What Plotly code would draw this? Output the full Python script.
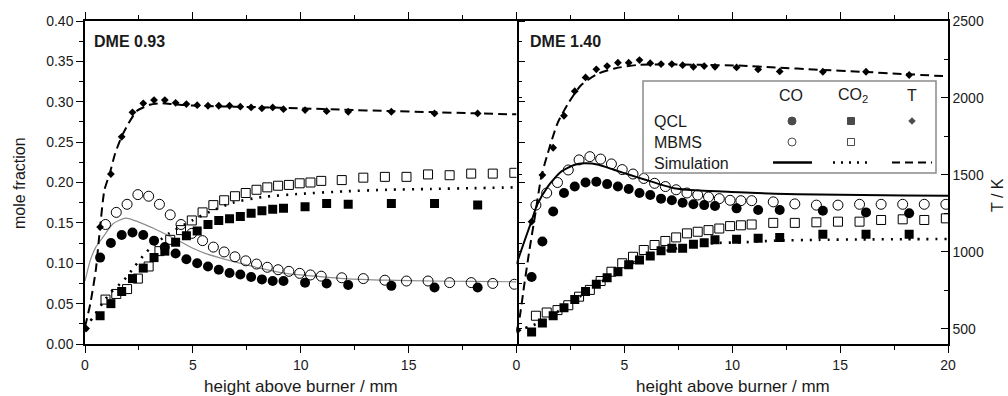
import plotly.graph_objects as go

# ---------------- data: DME 0.93 (left panel) ----------------
l_co_qcl_x = [0.7, 1.2, 1.7, 2.2, 2.7, 3.2, 3.7, 4.2, 4.7, 5.2, 5.7, 6.2, 6.7, 7.2, 7.7, 8.2, 8.7, 9.2, 10.2, 11.2, 12.2, 14.2, 16.2, 18.2]
l_co_qcl_y = [0.107, 0.125, 0.135, 0.138, 0.135, 0.128, 0.120, 0.112, 0.105, 0.100, 0.096, 0.092, 0.088, 0.086, 0.083, 0.080, 0.078, 0.078, 0.076, 0.075, 0.073, 0.072, 0.070, 0.070]
l_co2_qcl_y = [0.035, 0.050, 0.065, 0.081, 0.094, 0.107, 0.115, 0.126, 0.134, 0.140, 0.148, 0.153, 0.155, 0.158, 0.162, 0.165, 0.167, 0.168, 0.170, 0.174, 0.173, 0.174, 0.174, 0.172]
l_t_qcl_x = [0.05, 0.7, 1.2, 1.7, 2.2, 2.7, 3.2, 3.7, 4.2, 4.7, 5.2, 5.7, 6.2, 6.7, 7.2, 7.7, 8.2, 8.7, 9.2, 10.2, 11.2, 12.2, 14.2, 16.2, 18.2]
l_t_qcl = [500, 1160, 1505, 1747, 1906, 1965, 1986, 1986, 1968, 1960, 1953, 1949, 1949, 1949, 1943, 1938, 1932, 1938, 1927, 1921, 1914, 1910, 1910, 1899, 1899]
l_mbms_x = [0.95, 1.45, 1.95, 2.45, 2.95, 3.45, 3.95, 4.45, 4.95, 5.45, 5.95, 6.45, 6.95, 7.45, 7.95, 8.45, 8.95, 9.45, 9.95, 10.45, 10.95, 11.9, 12.9, 13.9, 14.9, 15.9, 16.9, 17.9, 18.9, 19.9]
l_co_mbms_y = [0.148, 0.163, 0.173, 0.185, 0.183, 0.173, 0.160, 0.148, 0.137, 0.128, 0.120, 0.114, 0.108, 0.103, 0.099, 0.095, 0.092, 0.090, 0.0875, 0.0855, 0.084, 0.082, 0.081, 0.079, 0.078, 0.078, 0.076, 0.076, 0.075, 0.074]
l_co2_mbms_y = [0.055, 0.062, 0.068, 0.081, 0.096, 0.115, 0.129, 0.141, 0.153, 0.163, 0.172, 0.178, 0.183, 0.187, 0.191, 0.194, 0.196, 0.197, 0.199, 0.200, 0.202, 0.203, 0.206, 0.207, 0.207, 0.210, 0.209, 0.211, 0.211, 0.212]
l_co_sim_x = [0, 0.25, 0.5, 0.85, 1.3, 1.9, 2.5, 3.2, 3.8, 4.4, 5, 5.6, 6.9, 8.1, 9.3, 10, 12, 14, 16, 18, 20]
l_co_sim_y = [0.078, 0.104, 0.120, 0.133, 0.149, 0.156, 0.151, 0.143, 0.135, 0.127, 0.1185, 0.112, 0.102, 0.094, 0.0875, 0.0855, 0.081, 0.079, 0.078, 0.0775, 0.077]
l_co2_sim_x = [0, 0.4, 0.8, 1.2, 1.8, 2.3, 2.85, 3.4, 3.9, 5, 5.8, 6.85, 8.2, 10, 12, 14, 16, 18, 20]
l_co2_sim_y = [0.020, 0.034, 0.050, 0.064, 0.079, 0.096, 0.114, 0.127, 0.137, 0.1535, 0.164, 0.175, 0.182, 0.186, 0.189, 0.191, 0.192, 0.193, 0.194]
l_t_sim_x = [0, 0.25, 0.5, 0.7, 0.9, 1.15, 1.4, 1.7, 2.0, 2.4, 3.0, 3.5, 4, 5, 6, 8, 10, 12, 14, 16, 18, 20]
l_t_sim = [510, 665, 880, 1160, 1400, 1510, 1640, 1750, 1830, 1915, 1955, 1965, 1960, 1950, 1945, 1940, 1932, 1923, 1915, 1908, 1900, 1893]

# ---------------- data: DME 1.40 (right panel) ----------------
r_qcl_x = [0.7, 1.2, 1.7, 2.2, 2.7, 3.2, 3.7, 4.2, 4.7, 5.2, 5.7, 6.2, 6.7, 7.2, 7.7, 8.2, 8.7, 9.2, 10.2, 11.2, 12.2, 14.2, 16.2, 18.2]
r_co_qcl_y = [0.083, 0.127, 0.164, 0.187, 0.195, 0.200, 0.201, 0.198, 0.195, 0.192, 0.187, 0.1845, 0.180, 0.178, 0.175, 0.173, 0.172, 0.171, 0.168, 0.166, 0.166, 0.165, 0.163, 0.162]
r_co2_qcl_y = [0.015, 0.026, 0.035, 0.045, 0.055, 0.065, 0.074, 0.082, 0.0895, 0.098, 0.104, 0.109, 0.1155, 0.1185, 0.1185, 0.1235, 0.1255, 0.129, 0.1296, 0.131, 0.132, 0.136, 0.136, 0.136]
r_t_qcl_x = [0.05, 0.7, 1.2, 1.7, 2.2, 2.7, 3.2, 3.7, 4.2, 4.7, 5.2, 5.7, 6.2, 6.7, 7.2, 7.7, 8.2, 8.7, 9.2, 10.2, 11.2, 12.2, 14.2, 16.2, 18.2]
r_t_qcl = [490, 1195, 1498, 1676, 1884, 2044, 2133, 2186, 2207, 2229, 2229, 2246, 2226, 2220, 2220, 2213, 2202, 2207, 2202, 2198, 2185, 2172, 2170, 2170, 2149]
r_mbms_x = [0.9, 1.4, 1.9, 2.4, 2.9, 3.4, 3.9, 4.4, 4.9, 5.4, 5.9, 6.4, 6.9, 7.4, 7.9, 8.4, 8.9, 9.4, 9.9, 10.4, 10.9, 11.9, 12.9, 13.9, 14.9, 15.9, 16.9, 17.9, 18.9, 19.9]
r_co_mbms_y = [0.172, 0.187, 0.200, 0.2155, 0.228, 0.232, 0.229, 0.223, 0.216, 0.2105, 0.205, 0.199, 0.195, 0.191, 0.187, 0.1845, 0.182, 0.180, 0.178, 0.1775, 0.1775, 0.176, 0.1735, 0.172, 0.172, 0.173, 0.173, 0.173, 0.173, 0.173]
r_co2_mbms_y = [0.035, 0.039, 0.042, 0.048, 0.0586, 0.067, 0.078, 0.0895, 0.100, 0.108, 0.1164, 0.1226, 0.1276, 0.132, 0.137, 0.139, 0.141, 0.143, 0.146, 0.147, 0.148, 0.150, 0.150, 0.1507, 0.1515, 0.1515, 0.1536, 0.1544, 0.1536, 0.1556]
r_co_sim_x = [0, 0.35, 0.68, 0.95, 1.45, 2.05, 2.7, 3.15, 3.8, 4.55, 5.3, 5.9, 7.3, 8.5, 10.3, 12, 14, 16, 18, 20]
r_co_sim_y = [0.099, 0.126, 0.151, 0.172, 0.195, 0.213, 0.222, 0.2237, 0.222, 0.2155, 0.209, 0.204, 0.193, 0.190, 0.188, 0.186, 0.185, 0.1845, 0.184, 0.1835]
r_co2_sim_x = [0, 0.6, 1.2, 1.8, 2.4, 3.0, 3.6, 4.2, 4.8, 5.4, 6, 6.6, 7.2, 7.8, 8.4, 9.2, 10.5, 12, 14, 16, 18, 20]
r_co2_sim_y = [0.017, 0.0215, 0.028, 0.038, 0.049, 0.060, 0.071, 0.082, 0.092, 0.100, 0.107, 0.113, 0.117, 0.1205, 0.123, 0.125, 0.126, 0.128, 0.129, 0.1295, 0.1298, 0.130]
r_t_sim_x = [0, 0.15, 0.37, 0.6, 0.85, 1.15, 1.45, 1.9, 2.4, 3, 3.8, 4.6, 5.6, 7, 8.5, 10.3, 12, 14, 16, 18, 20]
r_t_sim = [480, 577, 795, 1011, 1227, 1488, 1640, 1835, 1965, 2084, 2159, 2193, 2214, 2218, 2215, 2210, 2198, 2183, 2170, 2155, 2140]

x_ticks_left = [0, 5, 10, 15]
panel_labels = ["DME 0.93", "DME 1.40"]
legend_cols = ["CO", "CO<sub>2</sub>", "T"]
legend_rows = ["QCL", "MBMS", "Simulation"]

FONT = "Liberation Sans, Arial, sans-serif"
INK = "#1a1a1a"
W, H = 1008, 396
L, R, T, B = 85, 948, 21, 344


def px(xp):
    return (xp - L) / (R - L)


def py(yp):
    return (B - yp) / (B - T)


fig = go.Figure()

dot = "2px,7px"
dash = "9px,5px"


def add_panel(xa, ya, ta, co_sim_x, co_sim_y, co_sim_color, co_sim_w,
              co2_sim_x, co2_sim_y, t_sim_x, t_sim,
              qx, co_q, co2_q, tqx, t_q, mx, co_m, co2_m):
    # simulations
    fig.add_trace(go.Scatter(x=co_sim_x, y=co_sim_y, xaxis=xa, yaxis=ya, mode="lines",
                             line=dict(color=co_sim_color, width=co_sim_w, shape="spline", smoothing=0.6),
                             showlegend=False, hoverinfo="skip"))
    fig.add_trace(go.Scatter(x=co2_sim_x, y=co2_sim_y, xaxis=xa, yaxis=ya, mode="lines",
                             line=dict(color="black", width=2.6, dash=dot, shape="spline", smoothing=0.6),
                             showlegend=False, hoverinfo="skip"))
    fig.add_trace(go.Scatter(x=t_sim_x, y=t_sim, xaxis=xa, yaxis=ta, mode="lines",
                             line=dict(color="black", width=2, dash=dash, shape="spline", smoothing=0.6),
                             showlegend=False, hoverinfo="skip"))
    # MBMS open markers
    fig.add_trace(go.Scatter(x=mx, y=co_m, xaxis=xa, yaxis=ya, mode="markers",
                             marker=dict(symbol="circle-open", size=10, color="black", line=dict(width=1)),
                             showlegend=False))
    fig.add_trace(go.Scatter(x=mx, y=co2_m, xaxis=xa, yaxis=ya, mode="markers",
                             marker=dict(symbol="square-open", size=9, color="black", line=dict(width=1)),
                             showlegend=False))
    # QCL filled markers
    fig.add_trace(go.Scatter(x=qx, y=co_q, xaxis=xa, yaxis=ya, mode="markers",
                             marker=dict(symbol="circle", size=10, color="black"), showlegend=False))
    fig.add_trace(go.Scatter(x=qx, y=co2_q, xaxis=xa, yaxis=ya, mode="markers",
                             marker=dict(symbol="square", size=9, color="black"), showlegend=False))
    fig.add_trace(go.Scatter(x=tqx, y=t_q, xaxis=xa, yaxis=ta, mode="markers",
                             marker=dict(symbol="diamond", size=6, color="black"), showlegend=False))


add_panel("x", "y", "y3", l_co_sim_x, l_co_sim_y, "#8c8c8c", 1.2,
          l_co2_sim_x, l_co2_sim_y, l_t_sim_x, l_t_sim,
          l_co_qcl_x, l_co_qcl_y, l_co2_qcl_y, l_t_qcl_x, l_t_qcl,
          l_mbms_x, l_co_mbms_y, l_co2_mbms_y)
add_panel("x2", "y2", "y4", r_co_sim_x, r_co_sim_y, "black", 2.0,
          r_co2_sim_x, r_co2_sim_y, r_t_sim_x, r_t_sim,
          r_qcl_x, r_co_qcl_y, r_co2_qcl_y, r_t_qcl_x, r_t_qcl,
          r_mbms_x, r_co_mbms_y, r_co2_mbms_y)

# ---------------- legend table (drawn on an overlay axis in pixel units) ----------------
leg_marker_x = [792, 851, 912, 792, 851]
leg_marker_y = [121, 121, 121, 142, 142]
leg_marker_sym = ["circle", "square", "diamond", "circle-open", "square-open"]
leg_marker_size = [8, 7, 5, 8, 7]
fig.add_trace(go.Scatter(x=leg_marker_x, y=leg_marker_y, xaxis="x5", yaxis="y5", mode="markers",
                         marker=dict(symbol=leg_marker_sym, size=leg_marker_size, color="black",
                                     line=dict(width=1, color="black")),
                         showlegend=False, hoverinfo="skip"))
for x0, x1, d, w in [(773, 812, "solid", 2.4), (833, 872, "2px,6px", 2.6), (892, 932, "8px,5px", 2.2)]:
    fig.add_trace(go.Scatter(x=[x0, x1], y=[162.5, 162.5], xaxis="x5", yaxis="y5", mode="lines",
                             line=dict(color="black", width=w, dash=d), showlegend=False, hoverinfo="skip"))

axis_common = dict(showline=True, linecolor="black", linewidth=1.5, showgrid=False, zeroline=False,
                   automargin=False,
                   tickfont=dict(family=FONT, size=14, color=INK), tickcolor="black", tickwidth=1.3)

fig.update_layout(
    width=W, height=H,
    margin=dict(l=L, r=W - R, t=T, b=H - B, autoexpand=False),
    paper_bgcolor="white", plot_bgcolor="rgba(0,0,0,0)",
    showlegend=False,
    font=dict(family=FONT, color=INK),
    xaxis=dict(domain=[0, 0.5], range=[0, 20], anchor="y", tickvals=x_ticks_left,
               ticks="outside", ticklen=7, mirror="ticks",
               minor=dict(dtick=2.5, tick0=0, ticks="outside", ticklen=4, tickcolor="black", tickwidth=1.3),
               **axis_common),
    xaxis2=dict(domain=[0.5, 1], range=[0, 20], anchor="y2", dtick=5, tick0=0,
                ticks="outside", ticklen=7, mirror="ticks",
                minor=dict(dtick=2.5, tick0=0, ticks="outside", ticklen=4, tickcolor="black", tickwidth=1.3),
                **axis_common),
    yaxis=dict(domain=[0, 1], range=[0, 0.4], anchor="x", dtick=0.05, tick0=0, tickformat=".2f",
               ticks="outside", ticklen=7, mirror="ticks",
               minor=dict(dtick=0.025, tick0=0, ticks="outside", ticklen=4, tickcolor="black", tickwidth=1.3),
               **axis_common),
    yaxis2=dict(domain=[0, 1], range=[0, 0.4], anchor="x2", showticklabels=False, ticks="",
                showline=False, showgrid=False, zeroline=False, automargin=False),
    yaxis3=dict(range=[400, 2500], overlaying="y", anchor="x", side="right", showticklabels=False,
                showline=False, showgrid=False, zeroline=False, ticks="outside", ticklen=4, automargin=False,
                tickvals=[500, 1000, 1500, 2000, 2500], tickcolor="black", tickwidth=1.3),
    yaxis4=dict(range=[400, 2500], overlaying="y2", anchor="x2", side="right",
                tickvals=[500, 1000, 1500, 2000, 2500], ticks="inside", ticklen=7,
                minor=dict(dtick=250, tick0=0, ticks="inside", ticklen=4, tickcolor="black", tickwidth=1.3),
                **axis_common),
    xaxis5=dict(domain=[0, 1], range=[L, R], anchor="y5", visible=False, fixedrange=True, automargin=False),
    yaxis5=dict(domain=[0, 1], range=[B, T], anchor="x5", visible=False, fixedrange=True, automargin=False),
)

# legend frame
fig.add_shape(type="rect", xref="paper", yref="paper", x0=px(643), x1=px(936), y0=py(173), y1=py(81),
              line=dict(color="#8a8a8a", width=1.5), fillcolor="rgba(0,0,0,0)", layer="above")

ann = []
# panel labels
for lab, xp in zip(panel_labels, [92, 528]):
    ann.append(dict(text="<b>" + lab + "</b>", x=px(xp), y=py(42), xanchor="left", yanchor="middle",
                    font=dict(size=16, family=FONT, color=INK)))
# x-axis titles
for xc in [301, 733]:
    ann.append(dict(text="height above burner / mm", x=px(xc), y=py(386), xanchor="center", yanchor="middle",
                    font=dict(size=17, family=FONT, color=INK)))
# y-axis titles
ann.append(dict(text="mole fraction", x=px(19), y=py(183), textangle=-90, xanchor="center", yanchor="middle",
                font=dict(size=16, family=FONT, color=INK)))
ann.append(dict(text="T / K", x=px(997), y=py(195), textangle=-90, xanchor="center", yanchor="middle",
                font=dict(size=16, family=FONT, color=INK)))
# legend headers
for lab, xc in zip(legend_cols, [791, 853, 912]):
    ann.append(dict(text=lab, x=px(xc), y=py(95), xanchor="center", yanchor="middle",
                    font=dict(size=16, family=FONT, color=INK)))
for lab, yc in zip(legend_rows, [121, 142, 163]):
    ann.append(dict(text=lab, x=px(652), y=py(yc), xanchor="left", yanchor="middle",
                    font=dict(size=16, family=FONT, color=INK)))
for a in ann:
    a.update(xref="paper", yref="paper", showarrow=False)
fig.update_layout(annotations=ann)

fig.write_html("out.html", config={"displayModeBar": False},
               post_script="document.body.style.margin='0px';document.body.style.padding='0px';")
